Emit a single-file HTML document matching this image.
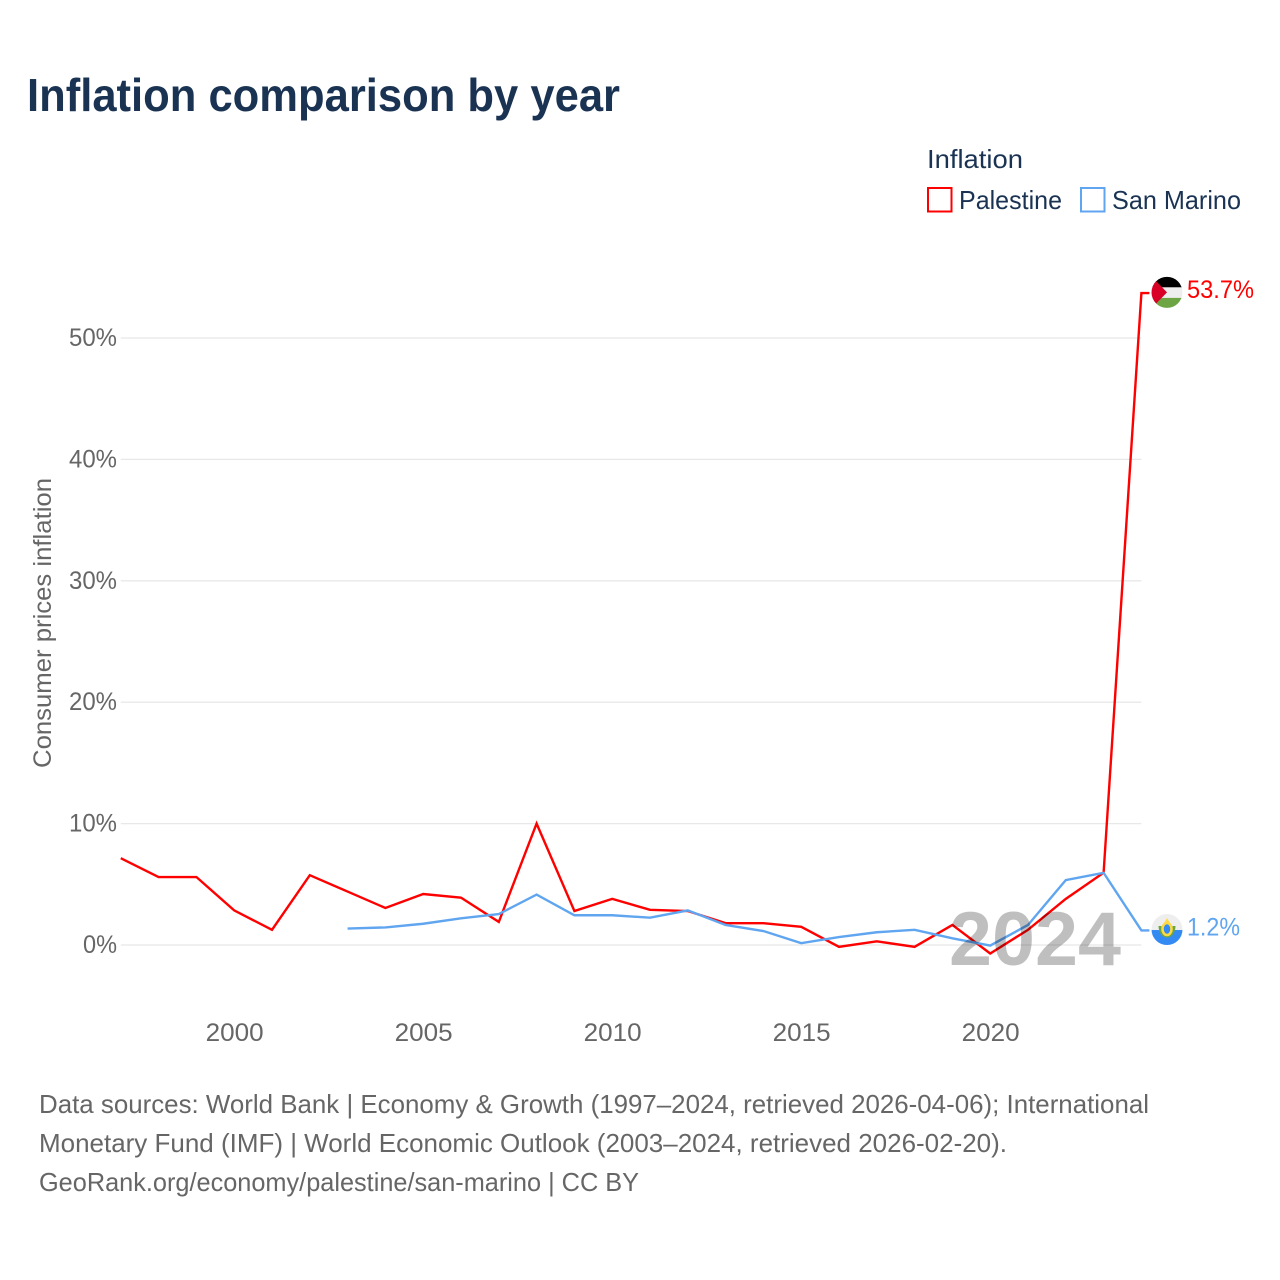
<!DOCTYPE html>
<html lang="en">
<head>
<meta charset="utf-8">
<title>Inflation comparison by year</title>
<style>
  html, body { margin: 0; padding: 0; background: #fff; }
  svg { display: block; font-family: "Liberation Sans", Arial, sans-serif; }
</style>
</head>
<body>
<svg id="chart" width="1280" height="1280" viewBox="0 0 1280 1280" xmlns="http://www.w3.org/2000/svg">
  <defs>
    <clipPath id="clip-ps"><circle id="clip-ps-circle" cx="1167" cy="292.5" r="15.5"/></clipPath>
    <clipPath id="clip-sm"><circle id="clip-sm-circle" cx="1167" cy="929.5" r="15.5"/></clipPath>
  </defs>
  <rect width="1280" height="1280" fill="#ffffff"/>
  <text x="27" y="111" font-size="46" font-weight="700" fill="#1a3353" textLength="593" lengthAdjust="spacingAndGlyphs">Inflation comparison by year</text>

  <g fill="#1a3353" font-size="26">
    <text x="927" y="168" textLength="96" lengthAdjust="spacingAndGlyphs">Inflation</text>
    <rect x="928" y="188" width="23.5" height="23.5" fill="none" stroke="#ff0000" stroke-width="2"/>
    <text x="959" y="209" textLength="103" lengthAdjust="spacingAndGlyphs">Palestine</text>
    <rect x="1081" y="188" width="23.5" height="23.5" fill="none" stroke="#60a5f0" stroke-width="2"/>
    <text x="1112" y="209" textLength="129" lengthAdjust="spacingAndGlyphs">San Marino</text>
  </g>

  <g id="grid"></g>
  <g id="y-ticks" font-size="25" fill="#666666" text-anchor="end"></g>
  <g id="x-ticks" font-size="25" fill="#666666" text-anchor="middle"></g>
  <text transform="translate(51,623) rotate(-90)" text-anchor="middle" font-size="25" fill="#666666" textLength="290" lengthAdjust="spacingAndGlyphs">Consumer prices inflation</text>

  <g id="series"></g>

  <text id="year-watermark" x="1121" y="965" text-anchor="end" font-size="76" font-weight="700" fill="#000000" fill-opacity="0.25" textLength="172" lengthAdjust="spacingAndGlyphs">2024</text>

  <g id="flag-palestine" clip-path="url(#clip-ps)">
    <rect x="1150" y="276" width="34" height="11.5" fill="#000000"/>
    <rect x="1150" y="287.5" width="34" height="10.5" fill="#eeeeee"/>
    <rect x="1150" y="298" width="34" height="11" fill="#6da544"/>
    <polygon points="1151,276 1167,292.5 1151,309" fill="#d80027"/>
  </g>
  <g id="flag-san-marino" clip-path="url(#clip-sm)">
    <rect x="1150" y="913" width="34" height="17" fill="#eeeeee"/>
    <rect x="1150" y="930" width="34" height="16" fill="#338af3"/>
    <path d="M1160 926 a7 10 0 0 0 14 0" fill="none" stroke="#6da544" stroke-width="3"/>
    <ellipse cx="1167" cy="929" rx="4.5" ry="6" fill="#338af3" stroke="#ffda44" stroke-width="2.5"/>
    <polygon points="1167,918 1170,923 1164,923" fill="#ffda44"/>
  </g>
  <g id="end-labels" font-size="25"></g>

  <g font-size="26" fill="#666666">
    <text x="39" y="1113" textLength="1110" lengthAdjust="spacingAndGlyphs">Data sources: World Bank | Economy &amp; Growth (1997–2024, retrieved 2026-04-06); International</text>
    <text x="39" y="1152" textLength="968" lengthAdjust="spacingAndGlyphs">Monetary Fund (IMF) | World Economic Outlook (2003–2024, retrieved 2026-02-20).</text>
    <text x="39" y="1191" textLength="600" lengthAdjust="spacingAndGlyphs">GeoRank.org/economy/palestine/san-marino | CC BY</text>
  </g>
</svg>

<script>
const years = [1997,1998,1999,2000,2001,2002,2003,2004,2005,2006,2007,2008,2009,2010,2011,2012,2013,2014,2015,2016,2017,2018,2019,2020,2021,2022,2023,2024];
const palestineValues = [7.15,5.6,5.6,2.85,1.25,5.75,4.4,3.05,4.2,3.9,1.9,10,2.8,3.8,2.9,2.8,1.8,1.8,1.5,-0.15,0.3,-0.15,1.65,-0.7,1.25,3.8,5.95,53.7];
const sanMarinoValues = [null,null,null,null,null,null,1.35,1.45,1.75,2.2,2.55,4.15,2.45,2.45,2.25,2.85,1.65,1.15,0.15,0.65,1.05,1.25,0.55,-0.05,1.65,5.35,5.95,1.2];
const yTickValues = [0,10,20,30,40,50];
const yTickLabels = ['0%','10%','20%','30%','40%','50%'];
const xTickValues = [2000,2005,2010,2015,2020];
const xTickLabels = ['2000','2005','2010','2015','2020'];
const palestineEndLabel = '53.7%';
const sanMarinoEndLabel = '1.2%';

const NS = 'http://www.w3.org/2000/svg';
const xScale = function (year) { return 120.8 + (year - 1997) * 37.8; };
const yScale = function (value) { return 945 - value * 12.14; };
const plotLeft = xScale(1997);
const plotRight = xScale(2024);

function make(tag, parentId) {
  const el = document.createElementNS(NS, tag);
  document.getElementById(parentId).appendChild(el);
  return el;
}

yTickValues.forEach(function (value, i) {
  const line = make('line', 'grid');
  
  
  line.setAttribute('x1', plotLeft);
  line.setAttribute('x2', plotRight);
  line.setAttribute('y1', yScale(value));
  line.setAttribute('y2', yScale(value));
  line.setAttribute('stroke', '#e8e8e8');
  line.setAttribute('stroke-width', '1.3');

  const label = make('text', 'y-ticks');
  
  
  label.setAttribute('x', 117);
  label.setAttribute('y', yScale(value) + 8);
  label.setAttribute('textLength', yTickLabels[i].length === 2 ? 34 : 48);
  label.setAttribute('lengthAdjust', 'spacingAndGlyphs');
  label.textContent = yTickLabels[i];
});

xTickValues.forEach(function (year, i) {
  const label = make('text', 'x-ticks');
  
  
  label.setAttribute('x', xScale(year) + 0.5);
  label.setAttribute('y', 1041);
  label.setAttribute('textLength', 58);
  label.setAttribute('lengthAdjust', 'spacingAndGlyphs');
  label.textContent = xTickLabels[i];
});

function linePoints(values) {
  const pts = [];
  values.forEach(function (value, i) {
    if (value !== null) {
      pts.push(xScale(years[i]).toFixed(2) + ',' + yScale(value).toFixed(2));
    }
  });
  const last = values[values.length - 1];
  pts.push((plotRight + 8).toFixed(2) + ',' + yScale(last).toFixed(2));
  return pts.join(' ');
}

const redLine = make('polyline', 'series');


redLine.setAttribute('points', linePoints(palestineValues));
redLine.setAttribute('fill', 'none');
redLine.setAttribute('stroke', '#ff0000');
redLine.setAttribute('stroke-width', '2.4');

const blueLine = make('polyline', 'series');


blueLine.setAttribute('points', linePoints(sanMarinoValues));
blueLine.setAttribute('fill', 'none');
blueLine.setAttribute('stroke', '#60a5f0');
blueLine.setAttribute('stroke-width', '2.4');

const redY = yScale(palestineValues[palestineValues.length - 1]);
const blueY = yScale(sanMarinoValues[sanMarinoValues.length - 1]);

const redLabel = make('text', 'end-labels');


redLabel.setAttribute('x', 1187);
redLabel.setAttribute('y', redY + 5);
redLabel.setAttribute('fill', '#ff0000');
redLabel.setAttribute('textLength', 67);
redLabel.setAttribute('lengthAdjust', 'spacingAndGlyphs');
redLabel.textContent = palestineEndLabel;

const blueLabel = make('text', 'end-labels');


blueLabel.setAttribute('x', 1187);
blueLabel.setAttribute('y', blueY + 5);
blueLabel.setAttribute('fill', '#60a5f0');
blueLabel.setAttribute('textLength', 53);
blueLabel.setAttribute('lengthAdjust', 'spacingAndGlyphs');
blueLabel.textContent = sanMarinoEndLabel;

document.getElementById('flag-palestine').setAttribute('transform', 'translate(0,' + (redY - 293.2).toFixed(2) + ')');
document.getElementById('flag-san-marino').setAttribute('transform', 'translate(0,' + (blueY - 930.4).toFixed(2) + ')');
</script>
</body>
</html>
